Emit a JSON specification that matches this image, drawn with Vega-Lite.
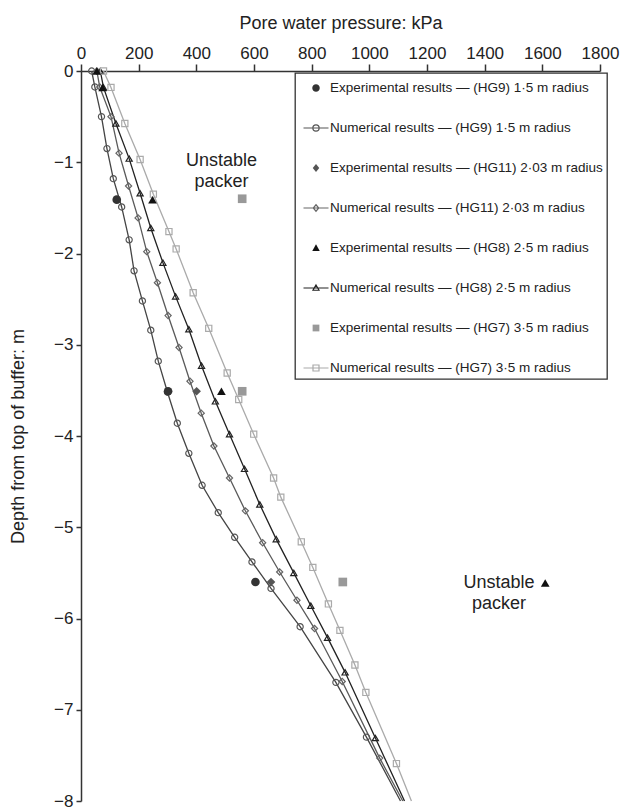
{
  "$schema": "https://vega.github.io/schema/vega-lite/v6.json",
  "width": 519,
  "height": 730,
  "autosize": {"type": "none"},
  "padding": {"left": 81, "top": 71, "right": 21, "bottom": 8},
  "background": "white",
  "config": {
    "view": {"stroke": null},
    "font": "Liberation Sans",
    "axis": {
      "grid": false,
      "labelFont": "Liberation Sans",
      "titleFont": "Liberation Sans",
      "labelColor": "#222",
      "titleColor": "#222",
      "titleFontWeight": "normal",
      "domainColor": "#333",
      "tickColor": "#333",
      "domainWidth": 1.5,
      "tickWidth": 1.5,
      "labelFlush": false,
      "labelOverlap": false
    },
    "legend": {
      "orient": "none",
      "legendX": 214,
      "legendY": 2,
      "title": null,
      "symbolSize": 400,
      "symbolOffset": 6,
      "symbolStrokeWidth": 1.2,
      "symbolOpacity": 1,
      "labelFont": "Liberation Sans",
      "labelFontSize": 13.5,
      "labelColor": "#222",
      "labelLimit": 400,
      "labelOffset": 3,
      "rowPadding": 22,
      "padding": 4,
      "strokeColor": "#333",
      "strokeWidth": 1.3
    }
  },
  "datasets": {
    "num": [
      {"s": "HG9", "p": 37, "d": 0, "mk": true},
      {"s": "HG9", "p": 48, "d": -0.175, "mk": true},
      {"s": "HG9", "p": 71, "d": -0.5, "mk": true},
      {"s": "HG9", "p": 90, "d": -0.85, "mk": true},
      {"s": "HG9", "p": 112, "d": -1.18, "mk": true},
      {"s": "HG9", "p": 141, "d": -1.49, "mk": true},
      {"s": "HG9", "p": 167, "d": -1.85, "mk": true},
      {"s": "HG9", "p": 184, "d": -2.19, "mk": true},
      {"s": "HG9", "p": 213, "d": -2.52, "mk": true},
      {"s": "HG9", "p": 242, "d": -2.84, "mk": true},
      {"s": "HG9", "p": 268, "d": -3.18, "mk": true},
      {"s": "HG9", "p": 300, "d": -3.52, "mk": true},
      {"s": "HG9", "p": 334, "d": -3.86, "mk": true},
      {"s": "HG9", "p": 374, "d": -4.19, "mk": true},
      {"s": "HG9", "p": 420, "d": -4.54, "mk": true},
      {"s": "HG9", "p": 476, "d": -4.84, "mk": true},
      {"s": "HG9", "p": 533, "d": -5.11, "mk": true},
      {"s": "HG9", "p": 593, "d": -5.38, "mk": true},
      {"s": "HG9", "p": 659, "d": -5.67, "mk": true},
      {"s": "HG9", "p": 760, "d": -6.09, "mk": true},
      {"s": "HG9", "p": 884, "d": -6.7, "mk": true},
      {"s": "HG9", "p": 990, "d": -7.3, "mk": true},
      {"s": "HG9", "p": 1108, "d": -8.0, "mk": false},
      {"s": "HG11", "p": 55, "d": 0, "mk": true},
      {"s": "HG11", "p": 65, "d": -0.175, "mk": true},
      {"s": "HG11", "p": 104, "d": -0.5, "mk": true},
      {"s": "HG11", "p": 132, "d": -0.9, "mk": true},
      {"s": "HG11", "p": 165, "d": -1.26, "mk": true},
      {"s": "HG11", "p": 198, "d": -1.61, "mk": true},
      {"s": "HG11", "p": 228, "d": -1.98, "mk": true},
      {"s": "HG11", "p": 265, "d": -2.32, "mk": true},
      {"s": "HG11", "p": 302, "d": -2.68, "mk": true},
      {"s": "HG11", "p": 340, "d": -3.03, "mk": true},
      {"s": "HG11", "p": 378, "d": -3.4, "mk": true},
      {"s": "HG11", "p": 417, "d": -3.75, "mk": true},
      {"s": "HG11", "p": 461, "d": -4.11, "mk": true},
      {"s": "HG11", "p": 515, "d": -4.46, "mk": true},
      {"s": "HG11", "p": 570, "d": -4.82, "mk": true},
      {"s": "HG11", "p": 630, "d": -5.17, "mk": true},
      {"s": "HG11", "p": 689, "d": -5.49, "mk": true},
      {"s": "HG11", "p": 749, "d": -5.8, "mk": true},
      {"s": "HG11", "p": 810, "d": -6.11, "mk": true},
      {"s": "HG11", "p": 906, "d": -6.69, "mk": true},
      {"s": "HG11", "p": 1036, "d": -7.53, "mk": true},
      {"s": "HG11", "p": 1116, "d": -8.0, "mk": false},
      {"s": "HG8", "p": 67, "d": 0, "mk": true},
      {"s": "HG8", "p": 78, "d": -0.18, "mk": true},
      {"s": "HG8", "p": 121, "d": -0.575, "mk": true},
      {"s": "HG8", "p": 167, "d": -0.96, "mk": true},
      {"s": "HG8", "p": 205, "d": -1.34, "mk": true},
      {"s": "HG8", "p": 242, "d": -1.72, "mk": true},
      {"s": "HG8", "p": 284, "d": -2.1, "mk": true},
      {"s": "HG8", "p": 328, "d": -2.47, "mk": true},
      {"s": "HG8", "p": 374, "d": -2.83, "mk": true},
      {"s": "HG8", "p": 418, "d": -3.23, "mk": true},
      {"s": "HG8", "p": 466, "d": -3.62, "mk": true},
      {"s": "HG8", "p": 515, "d": -3.98, "mk": true},
      {"s": "HG8", "p": 567, "d": -4.36, "mk": true},
      {"s": "HG8", "p": 620, "d": -4.75, "mk": true},
      {"s": "HG8", "p": 677, "d": -5.13, "mk": true},
      {"s": "HG8", "p": 738, "d": -5.5, "mk": true},
      {"s": "HG8", "p": 797, "d": -5.86, "mk": true},
      {"s": "HG8", "p": 855, "d": -6.21, "mk": true},
      {"s": "HG8", "p": 916, "d": -6.59, "mk": true},
      {"s": "HG8", "p": 1021, "d": -7.31, "mk": true},
      {"s": "HG8", "p": 1122, "d": -8.0, "mk": false},
      {"s": "HG7", "p": 78, "d": 0, "mk": true},
      {"s": "HG7", "p": 104, "d": -0.18, "mk": true},
      {"s": "HG7", "p": 152, "d": -0.575, "mk": true},
      {"s": "HG7", "p": 205, "d": -0.97, "mk": true},
      {"s": "HG7", "p": 251, "d": -1.35, "mk": true},
      {"s": "HG7", "p": 305, "d": -1.76, "mk": true},
      {"s": "HG7", "p": 330, "d": -1.95, "mk": true},
      {"s": "HG7", "p": 389, "d": -2.43, "mk": true},
      {"s": "HG7", "p": 443, "d": -2.82, "mk": true},
      {"s": "HG7", "p": 507, "d": -3.31, "mk": true},
      {"s": "HG7", "p": 547, "d": -3.6, "mk": true},
      {"s": "HG7", "p": 599, "d": -3.98, "mk": true},
      {"s": "HG7", "p": 668, "d": -4.46, "mk": true},
      {"s": "HG7", "p": 693, "d": -4.67, "mk": true},
      {"s": "HG7", "p": 764, "d": -5.16, "mk": true},
      {"s": "HG7", "p": 804, "d": -5.44, "mk": true},
      {"s": "HG7", "p": 858, "d": -5.84, "mk": true},
      {"s": "HG7", "p": 898, "d": -6.13, "mk": true},
      {"s": "HG7", "p": 950, "d": -6.51, "mk": true},
      {"s": "HG7", "p": 988, "d": -6.81, "mk": true},
      {"s": "HG7", "p": 1094, "d": -7.59, "mk": true},
      {"s": "HG7", "p": 1146, "d": -8.0, "mk": false}
    ],
    "exp": [
      {"s": "HG9", "p": 124, "d": -1.41},
      {"s": "HG9", "p": 302, "d": -3.51},
      {"s": "HG9", "p": 605, "d": -5.6},
      {"s": "HG11", "p": 401, "d": -3.51},
      {"s": "HG11", "p": 659, "d": -5.6},
      {"s": "HG8", "p": 55, "d": 0},
      {"s": "HG8", "p": 75, "d": -0.18},
      {"s": "HG8", "p": 248, "d": -1.41},
      {"s": "HG8", "p": 487, "d": -3.51},
      {"s": "HG8", "p": 1610, "d": -5.61},
      {"s": "HG7", "p": 559, "d": -1.4},
      {"s": "HG7", "p": 559, "d": -3.51},
      {"s": "HG7", "p": 908, "d": -5.6}
    ],
    "notes": [
      {"t": "Unstable\npacker", "p": 487, "d": -0.985},
      {"t": "Unstable\npacker", "p": 1450, "d": -5.61}
    ],
    "leg": [
      {"e": "Experimental results — (HG9) 1·5 m radius"},
      {"e": "Numerical results — (HG9) 1·5 m radius"},
      {"e": "Experimental results — (HG11) 2·03 m radius"},
      {"e": "Numerical results — (HG11) 2·03 m radius"},
      {"e": "Experimental results — (HG8) 2·5 m radius"},
      {"e": "Numerical results — (HG8) 2·5 m radius"},
      {"e": "Experimental results — (HG7) 3·5 m radius"},
      {"e": "Numerical results — (HG7) 3·5 m radius"}
    ]
  },
  "encoding": {
    "x": {
      "field": "p", "type": "quantitative",
      "scale": {"domain": [0, 1800], "nice": false, "zero": false},
      "axis": {
        "orient": "top",
        "values": [0, 200, 400, 600, 800, 1000, 1200, 1400, 1600, 1800],
        "format": "d",
        "title": "Pore water pressure: kPa",
        "labelFontSize": 17,
        "titleFontSize": 18,
        "tickSize": 7,
        "labelPadding": 2,
        "titlePadding": 12
      }
    },
    "y": {
      "field": "d", "type": "quantitative",
      "scale": {"domain": [-8, 0], "nice": false, "zero": false},
      "axis": {
        "orient": "left",
        "values": [0, -1, -2, -3, -4, -5, -6, -7, -8],
        "format": "d",
        "title": "Depth from top of buffer: m",
        "labelFontSize": 17,
        "titleFontSize": 18,
        "tickSize": 5,
        "labelPadding": 3,
        "titlePadding": 26
      }
    }
  },
  "layer": [
    {
      "data": {"name": "num"},
      "mark": {"type": "line", "strokeWidth": 1.3},
      "encoding": {
        "stroke": {
          "field": "s", "type": "nominal", "legend": null,
          "scale": {"domain": ["HG9", "HG11", "HG8", "HG7"], "range": ["#444444", "#5a5a5a", "#222222", "#aaaaaa"]}
        },
        "detail": {"field": "s"},
        "order": {"field": "d", "sort": "descending"}
      }
    },
    {
      "data": {"name": "num"},
      "transform": [{"filter": "datum.mk"}],
      "mark": {"type": "point", "filled": false, "size": 38, "strokeWidth": 1.2, "opacity": 1},
      "encoding": {
        "shape": {
          "field": "s", "type": "nominal", "legend": null,
          "scale": {"domain": ["HG9", "HG11", "HG8", "HG7"], "range": ["circle", "diamond", "triangle-up", "square"]}
        },
        "stroke": {
          "field": "s", "type": "nominal", "legend": null,
          "scale": {"domain": ["HG9", "HG11", "HG8", "HG7"], "range": ["#555555", "#666666", "#222222", "#aaaaaa"]}
        }
      }
    },
    {
      "data": {"name": "exp"},
      "mark": {"type": "point", "filled": true, "size": 75, "opacity": 1, "strokeWidth": 0},
      "encoding": {
        "shape": {
          "field": "s", "type": "nominal", "legend": null,
          "scale": {"domain": ["HG9", "HG11", "HG8", "HG7"], "range": ["circle", "diamond", "triangle-up", "square"]}
        },
        "fill": {
          "field": "s", "type": "nominal", "legend": null,
          "scale": {"domain": ["HG9", "HG11", "HG8", "HG7"], "range": ["#333333", "#555555", "#111111", "#999999"]}
        }
      }
    },
    {
      "data": {"name": "notes"},
      "mark": {"type": "text", "fontSize": 18, "font": "Liberation Sans", "color": "#222", "align": "center", "baseline": "middle", "lineBreak": "\n", "lineHeight": 21},
      "encoding": {
        "text": {"field": "t"}
      }
    },
    {
      "data": {"name": "leg"},
      "mark": {"type": "point", "opacity": 0},
      "encoding": {
        "x": {"datum": 900},
        "y": {"datum": -2},
        "shape": {
          "field": "e", "type": "nominal",
          "scale": {
            "domain": [
              "Experimental results — (HG9) 1·5 m radius",
              "Numerical results — (HG9) 1·5 m radius",
              "Experimental results — (HG11) 2·03 m radius",
              "Numerical results — (HG11) 2·03 m radius",
              "Experimental results — (HG8) 2·5 m radius",
              "Numerical results — (HG8) 2·5 m radius",
              "Experimental results — (HG7) 3·5 m radius",
              "Numerical results — (HG7) 3·5 m radius"
            ],
            "range": [
              "M-0.375,0A0.375,0.375 0 1,0 0.375,0A0.375,0.375 0 1,0 -0.375,0Z",
              "M-1.25,0H1.25M-0.3125,0A0.3125,0.3125 0 1,0 0.3125,0A0.3125,0.3125 0 1,0 -0.3125,0Z",
              "M0,-0.4L0.325,0L0,0.4L-0.325,0Z",
              "M-1.25,0H1.25M0,-0.325L0.275,0L0,0.325L-0.275,0Z",
              "M0,-0.375L0.375,0.3L-0.375,0.3Z",
              "M-1.25,0H1.25M0,-0.3L0.3,0.225L-0.3,0.225Z",
              "M-0.3375,-0.3375H0.3375V0.3375H-0.3375Z",
              "M-1.25,0H1.25M-0.3,-0.3H0.3V0.3H-0.3Z"
            ]
          }
        },
        "fill": {
          "field": "e", "type": "nominal",
          "scale": {
            "domain": [
              "Experimental results — (HG9) 1·5 m radius",
              "Numerical results — (HG9) 1·5 m radius",
              "Experimental results — (HG11) 2·03 m radius",
              "Numerical results — (HG11) 2·03 m radius",
              "Experimental results — (HG8) 2·5 m radius",
              "Numerical results — (HG8) 2·5 m radius",
              "Experimental results — (HG7) 3·5 m radius",
              "Numerical results — (HG7) 3·5 m radius"
            ],
            "range": ["#333333", "transparent", "#555555", "transparent", "#111111", "transparent", "#999999", "transparent"]
          }
        },
        "stroke": {
          "field": "e", "type": "nominal",
          "scale": {
            "domain": [
              "Experimental results — (HG9) 1·5 m radius",
              "Numerical results — (HG9) 1·5 m radius",
              "Experimental results — (HG11) 2·03 m radius",
              "Numerical results — (HG11) 2·03 m radius",
              "Experimental results — (HG8) 2·5 m radius",
              "Numerical results — (HG8) 2·5 m radius",
              "Experimental results — (HG7) 3·5 m radius",
              "Numerical results — (HG7) 3·5 m radius"
            ],
            "range": ["transparent", "#555555", "transparent", "#666666", "transparent", "#222222", "transparent", "#aaaaaa"]
          }
        }
      }
    }
  ],
  "resolve": {
    "scale": {"shape": "independent", "fill": "independent", "stroke": "independent"}
  }
}
